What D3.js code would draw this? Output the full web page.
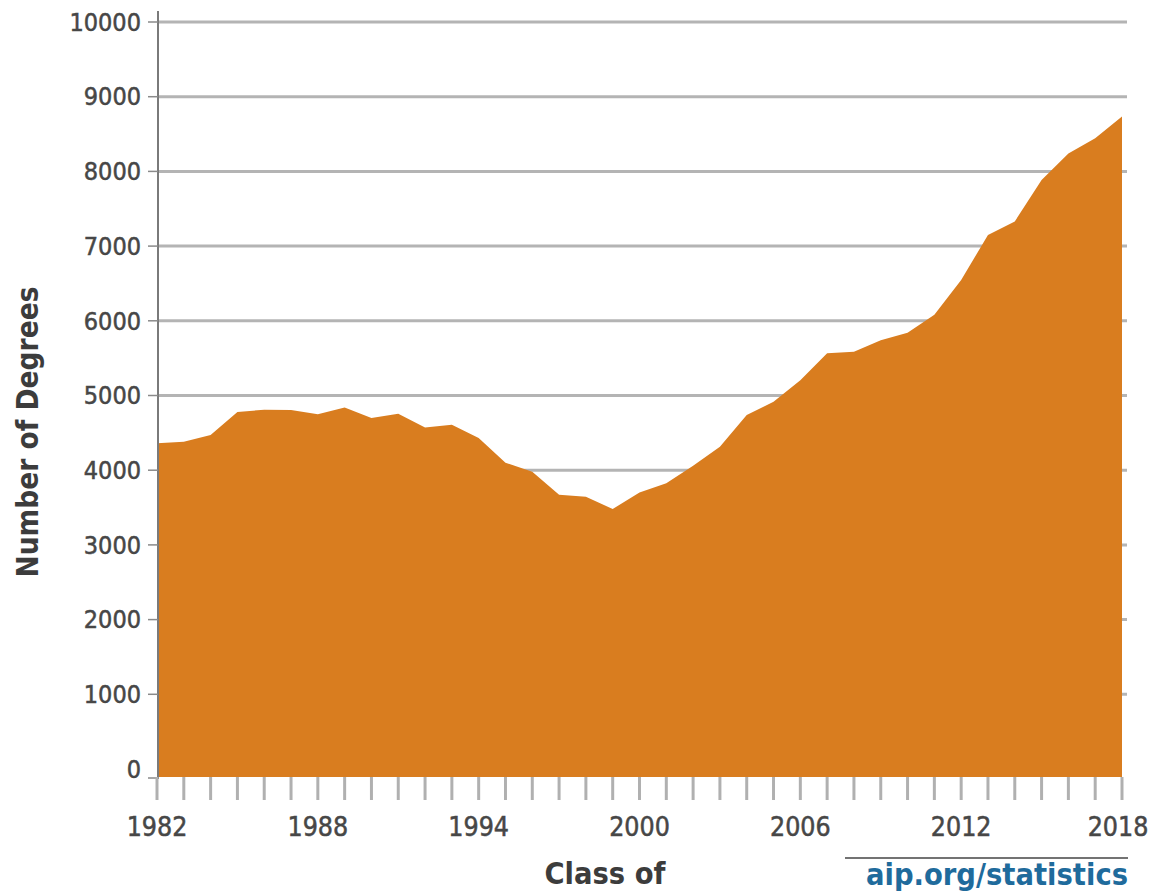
<!DOCTYPE html>
<meta charset="utf-8">
<style>
  body { margin: 0; background: #fff; }
  text { font-family: "DejaVu Sans Condensed", "DejaVu Sans", sans-serif; }
</style>
<svg width="1151" height="892"></svg>
<script src="https://d3js.org/d3.v7.min.js"></script>
<script>

// degrees per graduating class
var years = d3.range(1982, 2019)
var degrees = [4360, 4380, 4470, 4780, 4810, 4805, 4750, 4840, 4700, 4755,
  4570, 4610, 4430, 4100, 3980, 3670, 3645, 3480, 3700, 3825,
  4060, 4315, 4740, 4915, 5205, 5565, 5585, 5740, 5840, 6080,
  6545, 7150, 7330, 7885, 8240, 8445, 8735]
var yTicks = [0, 1000, 2000, 3000, 4000, 5000, 6000, 7000, 8000, 9000, 10000]
var xLabels = [1982, 1988, 1994, 2000, 2006, 2012, 2018]

var data = years.map(function (y, i) { return { year: y, value: degrees[i] } })

var svg = d3.select('svg')
var baseY = 777

var x = d3.scaleLinear().domain([1982, 2018]).range([157, 1122])
var y = d3.scaleLinear().domain([0, 10000]).range([769, 22])

// horizontal grid lines
svg.append('g')
  .selectAll('line')
  .data(yTicks.filter(function (d) { return d > 0 }))
  .enter().append('line')
    .attr('x1', 157).attr('x2', 1127)
    .attr('y1', y).attr('y2', y)
    .attr('stroke', '#b4b4b4')
    .attr('stroke-width', 3)

// filled area
var area = d3.area()
  .x(function (d) { return x(d.year) })
  .y0(baseY)
  .y1(function (d) { return y(d.value) })

svg.append('path')
  .datum(data)
  .attr('d', area)
  .attr('fill', '#d97d1f')

// y axis
var yAxis = svg.append('g')
yAxis.append('line')
  .attr('x1', 158).attr('x2', 158)
  .attr('y1', 11).attr('y2', baseY + 2)
  .attr('stroke', '#7a7a7a')
  .attr('stroke-width', 2)

yAxis.selectAll('.tk')
  .data(yTicks)
  .enter().append('line')
    .attr('x1', 148).attr('x2', 158)
    .attr('y1', function (d) { return d === 0 ? baseY + 1 : y(d) })
    .attr('y2', function (d) { return d === 0 ? baseY + 1 : y(d) })
    .attr('stroke', '#8a8a8a')
    .attr('stroke-width', 1.5)

yAxis.selectAll('text')
  .data(yTicks)
  .enter().append('text')
    .attr('x', 141)
    .attr('y', y)
    .attr('dy', '0.35em')
    .attr('text-anchor', 'end')
    .attr('font-size', 25)
    .attr('fill', '#474747')
    .attr('stroke', '#474747')
    .attr('stroke-width', 0.5)
    .text(function (d) { return d })

// x axis ticks
var xAxis = svg.append('g')
xAxis.selectAll('line')
  .data(years)
  .enter().append('line')
    .attr('x1', x).attr('x2', x)
    .attr('y1', baseY).attr('y2', baseY + 23)
    .attr('stroke', '#b0b0b0')
    .attr('stroke-width', 3)

xAxis.selectAll('text')
  .data(xLabels)
  .enter().append('text')
    .attr('x', function (d) { return d === 2018 ? x(d) - 4 : x(d) })
    .attr('y', 827)
    .attr('dy', '0.35em')
    .attr('text-anchor', 'middle')
    .attr('font-size', 26.5)
    .attr('fill', '#474747')
    .attr('stroke', '#474747')
    .attr('stroke-width', 0.5)
    .text(function (d) { return d })

// axis titles
svg.append('text')
  .attr('transform', 'translate(28,432) rotate(-90)')
  .attr('dy', '0.35em')
  .attr('text-anchor', 'middle')
  .attr('font-size', 29.5)
  .attr('font-weight', 'bold')
  .attr('fill', '#3c3c3c')
  .text('Number of Degrees')

svg.append('text')
  .attr('x', 605)
  .attr('y', 873)
  .attr('dy', '0.35em')
  .attr('text-anchor', 'middle')
  .attr('font-size', 30.5)
  .attr('font-weight', 'bold')
  .attr('fill', '#3c3c3c')
  .text('Class of')

// source
svg.append('line')
  .attr('x1', 845).attr('x2', 1128)
  .attr('y1', 858).attr('y2', 858)
  .attr('stroke', '#444')
  .attr('stroke-width', 1.5)

svg.append('text')
  .attr('x', 997)
  .attr('y', 874)
  .attr('dy', '0.35em')
  .attr('text-anchor', 'middle')
  .attr('font-size', 30.5)
  .attr('font-weight', 'bold')
  .attr('fill', '#1f6b9c')
  .text('aip.org/statistics')
</script>
